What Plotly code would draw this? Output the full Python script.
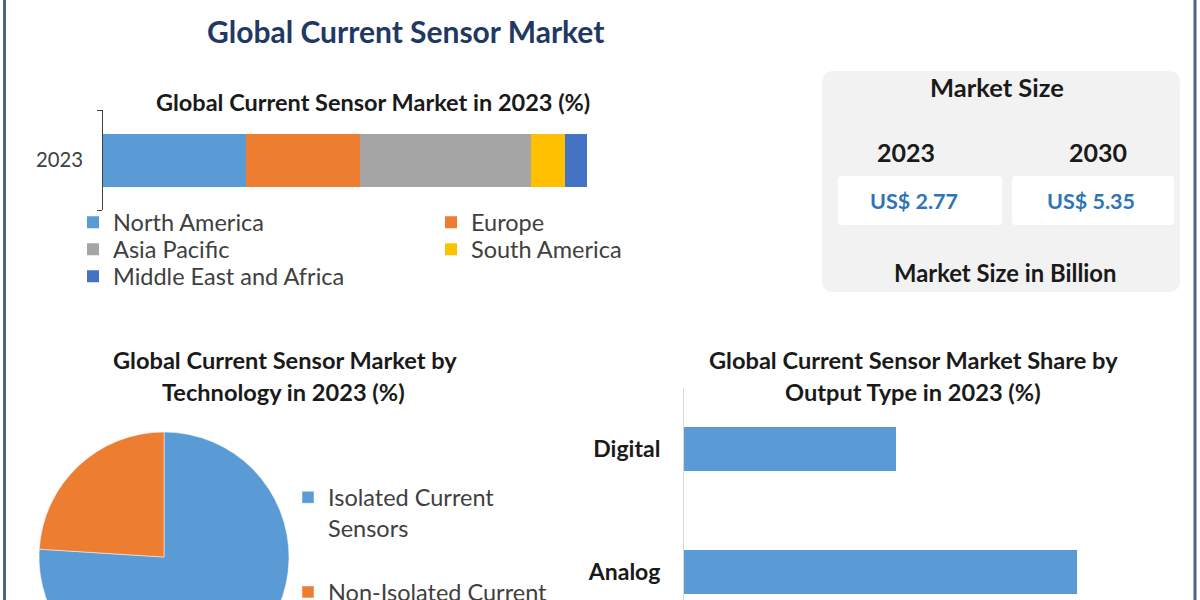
import plotly.graph_objects as go

# ---------------- data ----------------
regions = ["North America", "Europe", "Asia Pacific", "South America", "Middle East and Africa"]
region_share = [29.5, 23.6, 35.3, 7.0, 4.6]
region_colors = ["#5B9BD5", "#ED7D31", "#A5A5A5", "#FFC000", "#4472C4"]
region_legend_rows = ["legend", "legend", "legend3", "legend3", "legend4"]
bar_year = ["2023"]

tech_labels = ["Isolated Current<br>Sensors<br> ", "Non-Isolated Current<br>Sensors<br> "]
tech_share = [76, 24]
tech_colors = ["#5B9BD5", "#ED7D31"]

output_types = ["Analog", "Digital"]
output_share = [65, 35]

market_years = ["2023", "2030"]
market_values = [2.77, 5.35]

# ---------------- geometry helpers ----------------
W, H = 1200, 700
FONT = "Lato"
def fx(px):
    return px / W
def fy(py):
    return 1 - py / H

fig = go.Figure()

# stacked bar (regions)
for name, val, col, lg in zip(regions, region_share, region_colors, region_legend_rows):
    fig.add_trace(go.Bar(
        x=[val], y=bar_year, orientation="h", name=name,
        marker=dict(color=col, line=dict(width=0)), width=0.53,
        xaxis="x", yaxis="y", legend=lg, hoverinfo="name+x"))

# pie (technology)
fig.add_trace(go.Pie(
    labels=tech_labels, values=tech_share, sort=False, direction="clockwise",
    rotation=0, marker=dict(colors=tech_colors, line=dict(color="white", width=0.5)),
    textinfo="none", legend="legend2",
    domain=dict(x=[fx(39), fx(289)], y=[fy(682), fy(432)])))

# output type bars
fig.add_trace(go.Bar(
    x=output_share, y=output_types, orientation="h", width=0.36,
    marker=dict(color="#5B9BD5", line=dict(width=0)), showlegend=False,
    xaxis="x2", yaxis="y2"))

shapes = []
# frame lines
for xpos in (4.5, 1195):
    shapes.append(dict(type="line", xref="paper", yref="paper",
                       x0=fx(xpos), x1=fx(xpos), y0=0, y1=1,
                       line=dict(color="#4A6685", width=3)))

def rrect(x0, y0, x1, y1, r):
    X0, X1 = fx(x0), fx(x1)
    Y0, Y1 = fy(y0), fy(y1)
    rx, ry = r / W, r / H
    return (f"M {X0+rx},{Y0} L {X1-rx},{Y0} Q {X1},{Y0} {X1},{Y0-ry} "
            f"L {X1},{Y1+ry} Q {X1},{Y1} {X1-rx},{Y1} L {X0+rx},{Y1} "
            f"Q {X0},{Y1} {X0},{Y1+ry} L {X0},{Y0-ry} Q {X0},{Y0} {X0+rx},{Y0} Z")

shapes.append(dict(type="path", xref="paper", yref="paper", layer="below",
                   path=rrect(822, 71, 1180, 292, 12),
                   fillcolor="#F2F2F2", line=dict(width=0)))
shapes.append(dict(type="path", xref="paper", yref="paper", layer="below",
                   path=rrect(838, 176, 1002, 225, 4),
                   fillcolor="#FFFFFF", line=dict(width=0)))
shapes.append(dict(type="path", xref="paper", yref="paper", layer="below",
                   path=rrect(1012, 176, 1174, 225, 4),
                   fillcolor="#FFFFFF", line=dict(width=0)))

annotations = []
def txt(s, x, y, size, color="#1A1A1A", bold=True):
    annotations.append(dict(
        text=f"<b>{s}</b>" if bold else s, x=fx(x), y=fy(y), xref="paper", yref="paper",
        xanchor="center", yanchor="middle", showarrow=False,
        font=dict(family=FONT, size=size, color=color)))

txt("Global Current Sensor Market", 405, 31, 30, color="#1F3864")
txt("Global Current Sensor Market in 2023 (%)", 373, 102, 23.5)
txt("Market Size", 997, 87, 25.5)
txt(market_years[0], 906, 152, 25)
txt(market_years[1], 1098, 152, 25)
txt(f"US$ {market_values[0]:.2f}", 914, 201, 21.5, color="#2E75B6")
txt(f"US$ {market_values[1]:.2f}", 1091, 201, 21.5, color="#2E75B6")
txt("Market Size in Billion", 1005, 273, 23.8)
txt("Global Current Sensor Market by", 285, 360, 23.6)
txt("Technology in 2023 (%)", 283, 392, 23.6)
txt("Global Current Sensor Market Share by", 913, 360, 23.6)
txt("Output Type in 2023 (%)", 913, 392, 23.6)

LEG_FONT = dict(family=FONT, size=23.5, color="#404040")
def row_legend(ytop):
    return dict(orientation="h", x=fx(73), xanchor="left", y=fy(ytop), yanchor="top",
                entrywidth=313, entrywidthmode="pixels", bgcolor="rgba(0,0,0,0)",
                font=LEG_FONT, traceorder="normal", itemwidth=30)

fig.update_layout(
    width=W, height=H, margin=dict(l=0, r=0, t=0, b=0),
    paper_bgcolor="white", plot_bgcolor="white",
    barmode="stack", bargap=0,
    font=dict(family=FONT, color="#404040"),
    xaxis=dict(domain=[fx(103), fx(587)], range=[0, 100], visible=False, fixedrange=True),
    yaxis=dict(domain=[fy(210), fy(110)], type="category", range=[-0.5, 0.5],
               showline=True, linecolor="#404040", linewidth=1,
               ticks="outside", tickson="boundaries", ticklen=5, tickcolor="#404040",
               tickfont=dict(family=FONT, size=20.3, color="#404040"),
               ticklabelstandoff=15, showgrid=False, zeroline=False),
    xaxis2=dict(domain=[fx(684), fx(1180)], range=[0, 82], visible=False,
                anchor="y2", fixedrange=True),
    yaxis2=dict(domain=[fy(633.5), fy(388)], type="category", range=[-0.5, 1.5],
                categoryorder="array", categoryarray=output_types, anchor="x2",
                showline=True, linecolor="#D9D9D9", linewidth=1, ticks="",
                tickfont=dict(family=FONT, size=23, color="#1A1A1A", weight="bold"),
                ticklabelstandoff=18, showgrid=False, zeroline=False),
    legend=row_legend(200.5),
    legend3=row_legend(227.5),
    legend4=row_legend(254.5),
    legend2=dict(orientation="v", x=fx(288), xanchor="left", y=fy(475.5), yanchor="top",
                 valign="top", bgcolor="rgba(0,0,0,0)", font=LEG_FONT, itemwidth=30),
    shapes=shapes, annotations=annotations,
)

fig.write_html("out.html", config={"displayModeBar": False},
               post_script="document.body.style.margin='0';document.body.style.overflow='hidden';")
